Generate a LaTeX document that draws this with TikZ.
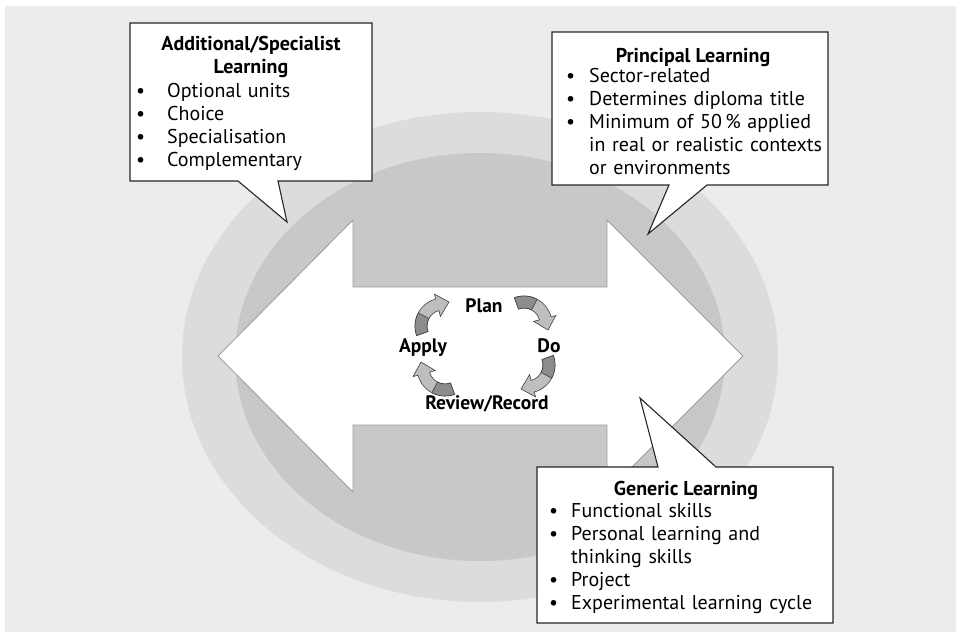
\documentclass[tikz,border=0pt]{standalone}
\usepackage{fontspec}
\setmainfont{PT Sans}
\definecolor{pagegray}{HTML}{ECECEC}
\definecolor{ringlight}{HTML}{DCDCDE}
\definecolor{ringdark}{HTML}{C8C8CA}
\definecolor{cyclelight}{HTML}{BEBEBE}
\definecolor{cycledark}{HTML}{8C8C8C}
\newcommand{\bitem}[2]{\noindent\hangindent=#1\hangafter=1\strut\makebox[#1][l]{\textbullet}#2\par}
\newcommand{\nextline}{\hfil\break}
\tikzset{
  pics/cyclearrow/.style={code={
    \begin{scope}[y=1pt]
      \filldraw[fill=cyclelight,draw=black!75,line width=0.6pt] (110:28) arc[start angle=110,end angle=15,radius=28] -- (15:33) -- (24,-6) -- (15:10) -- (15:16) arc[start angle=15,end angle=110,radius=16] -- cycle;
      \filldraw[fill=cycledark,draw=black!75,line width=0.6pt] (110:28) arc[start angle=110,end angle=62,radius=28] -- (62:16) arc[start angle=62,end angle=110,radius=16] -- cycle;
    \end{scope}
  }}
}
\begin{document}
\begin{tikzpicture}[x=1pt,y=-1pt,
    callout/.style={draw=black!85,line width=1.1pt,fill=white},
    boxtitle/.style={font=\bfseries\fontsize{20}{23}\selectfont,align=center,inner sep=0pt,anchor=north},
    boxlist/.style={font=\fontsize{20}{23}\selectfont,align=left,inner sep=0pt,anchor=north west},
    steplabel/.style={font=\bfseries\fontsize{19.5}{21}\selectfont,inner sep=0pt,anchor=base},
    bigarrow/.style={fill=white,draw=black!40,line width=0.8pt}]
  \useasboundingbox (0,0) rectangle (956,632);
  \fill[pagegray] (5,6) rectangle (956,632);
  \fill[ringlight] (480,357) ellipse [x radius=298,y radius=245];
  \fill[ringdark] (480,357) ellipse [x radius=245,y radius=204];
  \draw[bigarrow] (218,356) -- (353,220) -- (353,287) -- (607,287) -- (607,220) -- (743,356)
    -- (607,492) -- (607,425) -- (353,425) -- (353,492) -- cycle;
  \pic[rotate=90] at (443,326) {cyclearrow};
  \pic at (524,324) {cyclearrow};
  \pic[rotate=-90] at (527,365) {cyclearrow};
  \pic[rotate=180] at (445,368) {cyclearrow};
  \node[steplabel] (plan) at (484,312) {Plan};
  \node[steplabel] (do) at (549,352) {Do};
  \node[steplabel] (apply) at (423,352) {Apply};
  \node[steplabel] (review) at (487,409) {Review/Record};
  \draw[callout] (130,23) -- (372,23) -- (372,181) -- (278,181) -- (287,222) -- (238,181) -- (130,181) -- cycle;
  \draw[callout] (552,32) -- (828,32) -- (828,185) -- (707,185) -- (648,234) -- (669,185) -- (552,185) -- cycle;
  \draw[callout] (537,467) -- (658,467) -- (640,398) -- (716,467) -- (833,467) -- (833,623) -- (537,623) -- cycle;
  \node[boxtitle] (addtitle) at (251,34) {\strut Additional/Specialist\\\strut Learning};
  \node[boxlist,text width=230pt] (addlist) at (136,81) {%
    \bitem{31pt}{Optional units}
    \bitem{31pt}{Choice}
    \bitem{31pt}{Specialisation}
    \bitem{31pt}{Complementary}};
  \node[boxtitle] (printitle) at (693,46) {\strut Principal Learning};
  \node[boxlist,text width=262pt] (prinlist) at (566,66) {%
    \bitem{23pt}{Sector-related}
    \bitem{23pt}{Determines diploma title}
    \bitem{23pt}{Minimum of 50\,\% applied\nextline in real or realistic contexts\nextline or environments}};
  \node[boxtitle] (gentitle) at (686,479) {\strut Generic Learning};
  \node[boxlist,text width=280pt] (genlist) at (549,501) {%
    \bitem{22pt}{Functional skills}
    \bitem{22pt}{Personal learning and\nextline thinking skills}
    \bitem{22pt}{Project}
    \bitem{22pt}{Experimental learning cycle}};
\end{tikzpicture}
\end{document}
